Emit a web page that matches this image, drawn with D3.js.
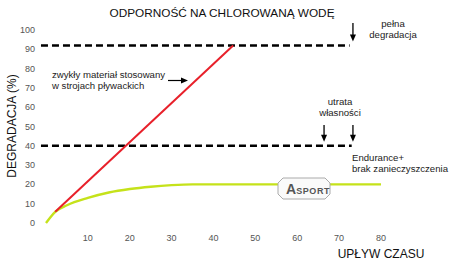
<!DOCTYPE html>
<html>
<head>
<meta charset="utf-8">
<script src="https://cdn.jsdelivr.net/npm/d3@7"></script>
<style>
  body { margin: 0; background: #fff; }
  text { font-family: "Liberation Sans", Arial, sans-serif; }
</style>
</head>
<body>
<svg id="chart" width="456" height="264"></svg>
<script>
const xTicks = [10, 20, 30, 40, 50, 60, 70, 80]
const yTicks = [0, 10, 20, 30, 40, 50, 60, 70, 80, 90, 100]

// red: ordinary swimwear fabric
const redSeries = [[2.2, 5.8], [44.7, 92]]
// green: Endurance+
const greenSeries = [[0, 0], [2.2, 5.8], [5, 9.2], [10, 13], [15, 15.8], [20, 17.6],
    [25, 18.8], [30, 19.6], [35, 20], [40, 20], [50, 20], [60, 20], [70, 20], [80, 20]]

// dashed threshold lines: value, start, end (time units)
const thresholds = [
    {v: 92, from: -1.2, to: 72.5},
    {v: 40, from: -1.2, to: 73}
]
const arrowsTop = [73.3]
const arrowsLow = [66.4, 73.3]

const svg = d3.select('#chart')
const x = d3.scaleLinear().domain([0, 80]).range([46, 381])
const y = d3.scaleLinear().domain([0, 100]).range([223, 30])

svg.append('text')
    .attr('x', 222).attr('y', 17)
    .attr('text-anchor', 'middle')
    .attr('font-size', 11.8)
    .attr('fill', '#111')
    .text('ODPORNOŚĆ NA CHLOROWANĄ WODĘ')

// y tick labels
svg.selectAll('text.ytick')
    .data(yTicks)
    .join('text')
    .attr('class', 'ytick')
    .attr('x', 35)
    .attr('y', d => y(d) + 3)
    .attr('text-anchor', 'end')
    .attr('font-size', 9)
    .attr('fill', '#555')
    .text(d => d)

svg.selectAll('text.xtick')
    .data(xTicks)
    .join('text')
    .attr('class', 'xtick')
    .attr('x', d => x(d))
    .attr('y', d => 241)
    .attr('text-anchor', 'middle')
    .attr('font-size', 9)
    .attr('fill', '#555')
    .text(d => d)

svg.append('text')
    .attr('transform', 'translate(16,126) rotate(-90)')
    .attr('text-anchor', 'middle')
    .attr('font-size', 12)
    .attr('fill', '#111')
    .text('DEGRADACJA (%)')

svg.append('text')
    .attr('x', 381).attr('y', 258)
    .attr('text-anchor', 'middle')
    .attr('font-size', 12)
    .attr('fill', '#111')
    .text('UPŁYW CZASU')

// thresholds
svg.selectAll('line.thr')
    .data(thresholds)
    .join('line')
    .attr('class', 'thr')
    .attr('x1', d => x(d.from))
    .attr('x2', d => x(d.to))
    .attr('y1', d => y(d.v))
    .attr('y2', d => y(d.v))
    .attr('stroke', '#000')
    .attr('stroke-width', 2.6)
    .attr('stroke-dasharray', '7,4')

const line = d3.line().x(d => x(d[0])).y(d => y(d[1]))

svg.append('path')
    .datum(greenSeries)
    .attr('d', line.curve(d3.curveMonotoneX))
    .attr('fill', 'none')
    .attr('stroke', '#c5e21a')
    .attr('stroke-width', 2.4)

svg.append('path')
    .datum(redSeries)
    .attr('d', d3.line().x(d => x(d[0])).y(d => y(d[1])))
    .attr('fill', 'none')
    .attr('stroke', '#e8202a')
    .attr('stroke-width', 2)

// down arrows
function downArrow(cx, y0, y1) {
    svg.append('line')
        .attr('x1', cx).attr('x2', cx)
        .attr('y1', y0).attr('y2', y1 - 5)
        .attr('stroke', '#000').attr('stroke-width', 1.3)
    svg.append('path')
        .attr('d', `M${cx - 3},${y1 - 7}L${cx + 3},${y1 - 7}L${cx},${y1}Z`)
        .attr('fill', '#000')
}
arrowsTop.forEach(t => downArrow(x(t), 23, y(92) - 4))
arrowsLow.forEach(t => downArrow(x(t), 125, y(40) - 4))

function note(lines, px, py, anchor) {
    const t = svg.append('text')
        .attr('font-size', 9.6)
        .attr('fill', '#222')
        .attr('text-anchor', anchor)
    lines.forEach((s, i) => {
        t.append('tspan').attr('x', px).attr('y', py + i * 10.5).text(s)
    })
}
note(['pełna', 'degradacja'], 393, 27, 'middle')
note(['utrata', 'własności'], 340, 105, 'middle')
note(['Endurance+', 'brak zanieczyszczenia'], 352, 161, 'start')
note(['zwykły materiał stosowany', 'w strojach pływackich'], 52, 78, 'start')

// arrow to red line
svg.append('line')
    .attr('x1', 168).attr('x2', 182)
    .attr('y1', 80.5).attr('y2', 80.5)
    .attr('stroke', '#000').attr('stroke-width', 1.2)
svg.append('path')
    .attr('d', 'M181,77.5L188,80.5L181,83.5Z')
    .attr('fill', '#000')

// ASPORT badge
const bx = 278, by = 178, bw = 52, bh = 21, c = 5
svg.append('path')
    .attr('d', `M${bx + c},${by}H${bx + bw - c}L${bx + bw},${by + c}V${by + bh - c}L${bx + bw - c},${by + bh}H${bx + c}L${bx},${by + bh - c}V${by + c}Z`)
    .attr('fill', '#fafafa')
    .attr('stroke', '#aaa')
    .attr('stroke-width', 1)
const logo = svg.append('text')
    .attr('x', 286).attr('y', 194)
    .attr('fill', '#555')
    .attr('font-weight', 'bold')
logo.append('tspan').attr('font-size', 14).text('A')
logo.append('tspan').attr('font-size', 9).attr('letter-spacing', 0.6).text('SPORT')
</script>
</body>
</html>
